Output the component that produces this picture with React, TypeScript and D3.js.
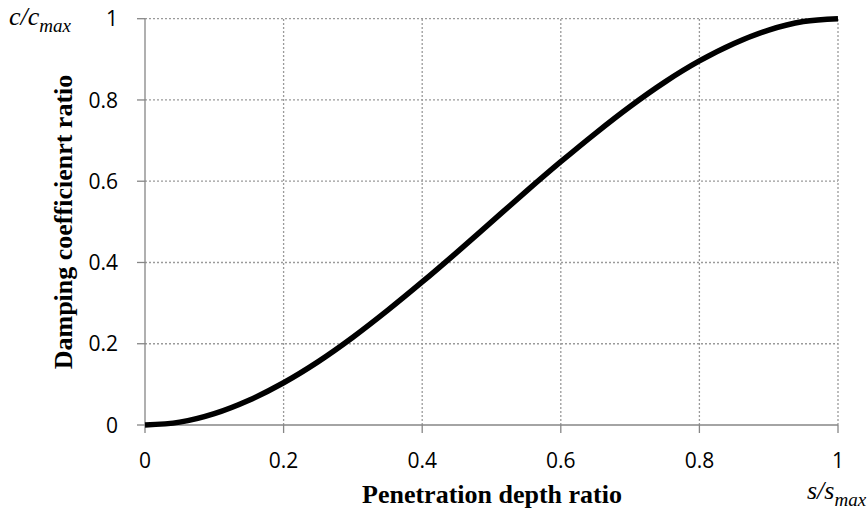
import React from "react";
import * as d3 from "d3";

const W = 868;
const H = 511;

// s/smax values
const xValues = [0, 0.05, 0.1, 0.15, 0.2, 0.25, 0.3, 0.35, 0.4, 0.45, 0.5, 0.55, 0.6, 0.65, 0.7, 0.75, 0.8, 0.85, 0.9, 0.95, 1];
// c/cmax values
const yValues = [0, 0.007, 0.028, 0.061, 0.104, 0.156, 0.216, 0.282, 0.352, 0.425, 0.5, 0.575, 0.648, 0.718, 0.784, 0.844, 0.896, 0.939, 0.972, 0.993, 1];

const xTicks = [0, 0.2, 0.4, 0.6, 0.8, 1];
const yTicks = [0, 0.2, 0.4, 0.6, 0.8, 1];
const xTickLabels = ["0", "0.2", "0.4", "0.6", "0.8", "1"];
const yTickLabels = ["0", "0.2", "0.4", "0.6", "0.8", "1"];

const xTitle = "Penetration depth ratio";
const yTitle = "Damping coefficienrt ratio";

export default function App() {
  const left = 145, right = 838, top = 18.7, bottom = 425;
  const x = d3.scaleLinear().domain([0, 1]).range([left, right]);
  const y = d3.scaleLinear().domain([0, 1]).range([bottom, top]);
  const pts = xValues.map((v, i) => [v, yValues[i]] as [number, number]);
  const line = d3.line<[number, number]>().x(d => x(d[0])).y(d => y(d[1])).curve(d3.curveMonotoneX);
  const axisColor = "#868686";
  const tickFont = "'Open Sans', sans-serif";
  const serif = "'Liberation Serif', 'Times New Roman', serif";
  return (
    <svg width={W} height={H} style={{ position: "absolute", left: 0, top: 0, background: "#fff" }}>
      {/* grid */}
      {xTicks.filter(t => t > 0).map(t => (
        <line key={"gx" + t} x1={x(t)} x2={x(t)} y1={y(0)} y2={y(1)} stroke="#9a9a9a" strokeWidth={1.3} strokeDasharray="2,2" />
      ))}
      {yTicks.filter(t => t > 0).map(t => (
        <line key={"gy" + t} x1={x(0)} x2={x(1)} y1={y(t)} y2={y(t)} stroke="#9a9a9a" strokeWidth={1.3} strokeDasharray="2,2" />
      ))}
      {/* axes */}
      <line x1={x(0)} x2={x(0)} y1={y(0)} y2={y(1)} stroke={axisColor} strokeWidth={1.3} />
      <line x1={x(0)} x2={x(1)} y1={y(0)} y2={y(0)} stroke={axisColor} strokeWidth={1.3} />
      {yTicks.map(t => (
        <line key={"ty" + t} x1={x(0) - 8} x2={x(0)} y1={y(t)} y2={y(t)} stroke={axisColor} strokeWidth={1.3} />
      ))}
      {xTicks.map(t => (
        <line key={"tx" + t} x1={x(t)} x2={x(t)} y1={y(0)} y2={y(0) + 8} stroke={axisColor} strokeWidth={1.3} />
      ))}
      {/* tick labels */}
      {yTicks.map((t, i) => (
        <text key={"ly" + t} x={118} y={y(t)} dy="0.36em" textAnchor="end" fontFamily={tickFont} fontSize={21} fill="#000">{yTickLabels[i]}</text>
      ))}
      {xTicks.map((t, i) => (
        <text key={"lx" + t} x={x(t)} y={468} textAnchor="middle" fontFamily={tickFont} fontSize={21} fill="#000">{xTickLabels[i]}</text>
      ))}
      {/* curve */}
      <path d={line(pts) || ""} fill="none" stroke="#000" strokeWidth={5.5} strokeLinecap="butt" />
      {/* titles */}
      <text x={492} y={503} textAnchor="middle" fontFamily={serif} fontWeight="bold" fontSize={26} fill="#000">{xTitle}</text>
      <text transform={`translate(72,222) rotate(-90)`} textAnchor="middle" fontFamily={serif} fontWeight="bold" fontSize={26} fill="#000">{yTitle}</text>
      <text x={9} y={25} fontFamily={serif} fontStyle="italic" fontSize={26} fill="#000">
        c/c<tspan fontSize={19} dy={7}>max</tspan>
      </text>
      <text x={807} y={499} fontFamily={serif} fontStyle="italic" fontSize={26} fill="#000">
        s/s<tspan fontSize={19} dy={7}>max</tspan>
      </text>
    </svg>
  );
}
